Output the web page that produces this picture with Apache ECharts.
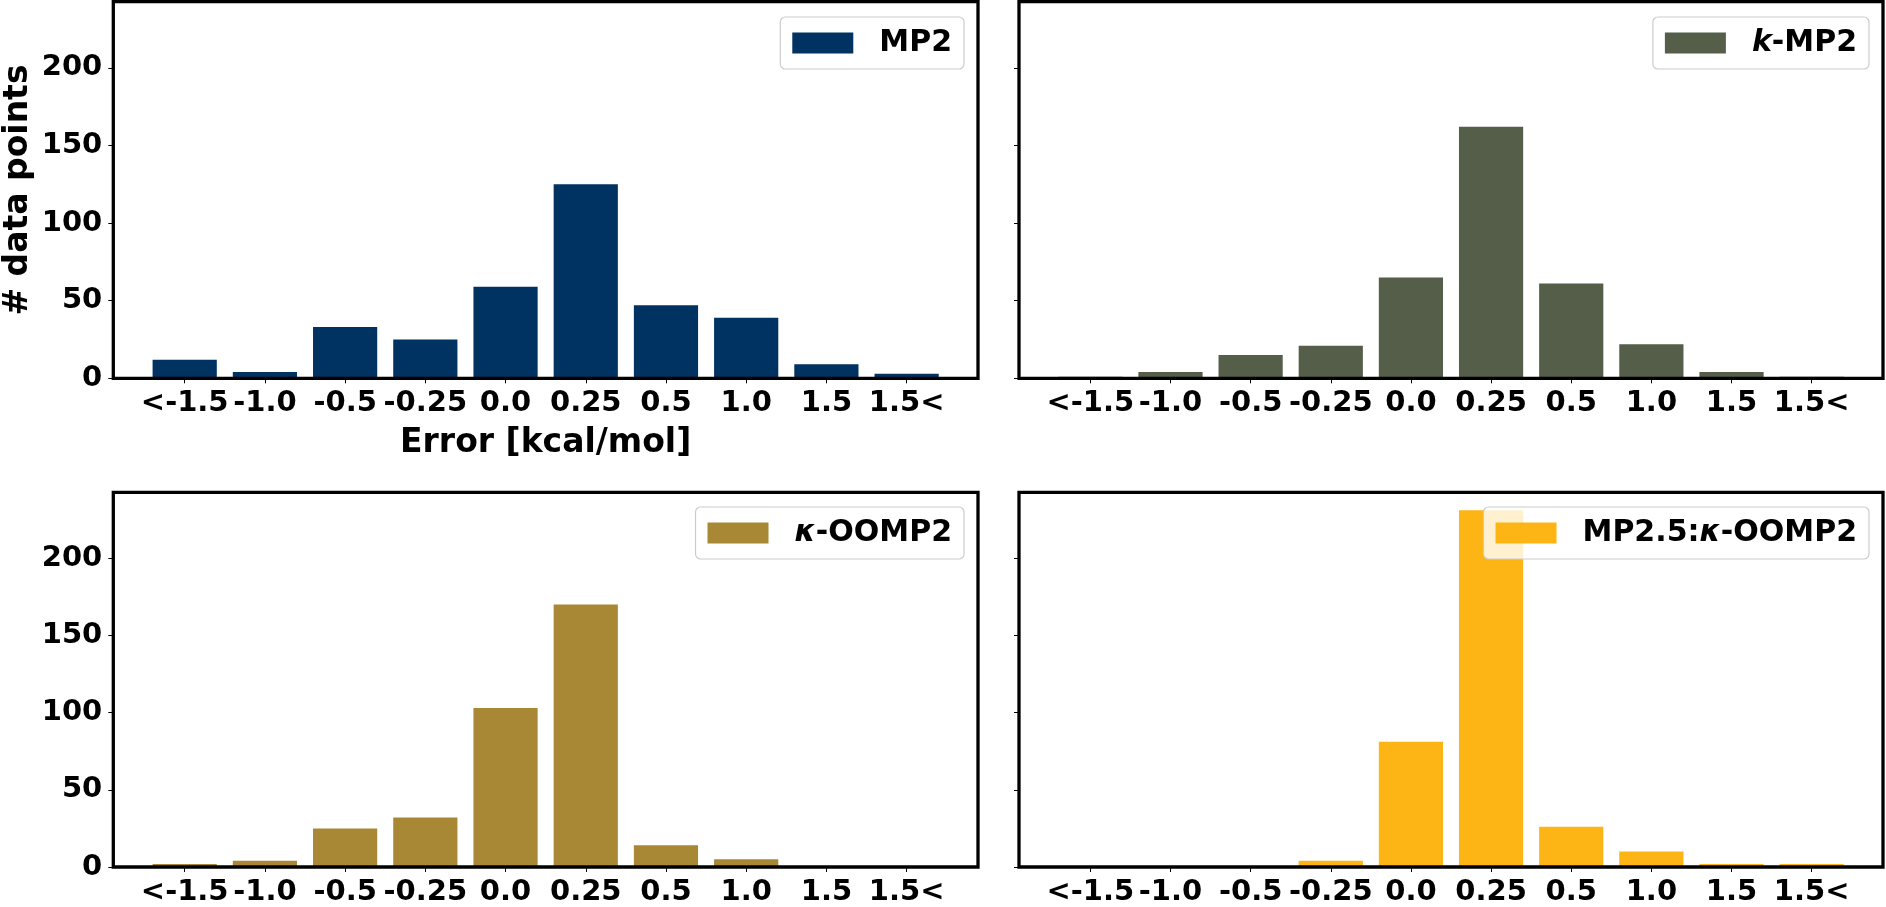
<!DOCTYPE html>
<html>
<head>
<meta charset="utf-8">
<script src="https://cdn.jsdelivr.net/npm/echarts@6/dist/echarts.min.js"></script>
<style>
html,body{margin:0;padding:0;background:#fff;}
#chart{width:1886px;height:907px;}
</style>
</head>
<body>
<div id="chart"></div>
<script>
// ---- data ----
const categories = ['<-1.5', '-1.0', '-0.5', '-0.25', '0.0', '0.25', '0.5', '1.0', '1.5', '1.5<'];
const mp2Counts    = [12, 4, 33, 25, 59, 125, 47, 39, 9, 3];
const kmp2Counts   = [1, 4, 15, 21, 65, 162, 61, 22, 4, 1];
const koomp2Counts = [2, 4, 25, 32, 103, 170, 14, 5, 0, 0];
const mp25Counts   = [0, 0, 0, 4, 81, 231, 26, 10, 2, 2];
const yTickValues  = [0, 50, 100, 150, 200];
const seriesNames  = ['MP2', 'k-MP2', 'κ-OOMP2', 'MP2.5:κ-OOMP2'];
const legendLabels = ['MP2', '{i|k}-MP2', '{i|κ}-OOMP2', 'MP2.5:{i|κ}-OOMP2'];
const seriesColors = ['#003262', '#555e49', '#a88834', '#fdb515'];
const allCounts = [mp2Counts, kmp2Counts, koomp2Counts, mp25Counts];

// ---- layout ----
const FONT = 'DejaVu Sans';
const panels = [
  {left: 113.3, top: 1.7,   width: 864.7, height: 376.6, ylabels: true,  xname: true,  yname: true,  legendRight: 922, legendTop: 17},
  {left: 1019,  top: 1.7,   width: 864,   height: 376.6, ylabels: false, xname: false, yname: false, legendRight: 17,  legendTop: 17},
  {left: 113.3, top: 492.3, width: 864.7, height: 377.4, ylabels: true,  xname: false, yname: false, legendRight: 922, legendTop: 507},
  {left: 1019,  top: 492.3, width: 864,   height: 377.4, ylabels: false, xname: false, yname: false, legendRight: 17,  legendTop: 507}
];
const yMax = 242.55;
const xMin = -0.89, xMax = 9.89;
const catIdx = categories.map((_, i) => i);

const chart = echarts.init(document.getElementById('chart'), null, {renderer: 'canvas'});

const grid = [], xAxis = [], yAxis = [], series = [], legend = [];
panels.forEach((p, k) => {
  grid.push({left: p.left, top: p.top, width: p.width, height: p.height,
    show: true, borderColor: '#000', borderWidth: 3.3, backgroundColor: 'transparent', z: 3, containLabel: false});
  xAxis.push({
    gridIndex: k, type: 'value', min: xMin, max: xMax, position: 'bottom',
    splitLine: {show: false},
    axisLine: {show: false, onZero: false},
    axisTick: {show: true, inside: false, length: 5, lineStyle: {color: '#000', width: 1}, customValues: catIdx},
    axisLabel: {show: true, margin: 11, color: '#000', fontFamily: FONT, fontWeight: 'bold', fontSize: 29,
      customValues: catIdx, formatter: v => categories[Math.round(v)]},
    name: p.xname ? 'Error [kcal/mol]' : '',
    nameLocation: 'middle', nameGap: 49,
    nameTextStyle: {color: '#000', fontFamily: FONT, fontWeight: 'bold', fontSize: 33}
  });
  yAxis.push({
    gridIndex: k, type: 'value', min: 0, max: yMax, position: 'left',
    splitLine: {show: false},
    axisLine: {show: false, onZero: false},
    axisTick: {show: true, inside: false, length: 5, lineStyle: {color: '#000', width: 1}, customValues: yTickValues},
    axisLabel: {show: p.ylabels, margin: 11, color: '#000', fontFamily: FONT, fontWeight: 'bold', fontSize: 29,
      customValues: yTickValues},
    name: p.yname ? '# data points' : '',
    nameLocation: 'middle', nameGap: 78, nameRotate: 90,
    nameTextStyle: {color: '#000', fontFamily: FONT, fontWeight: 'bold', fontSize: 33}
  });
  series.push({
    type: 'bar', name: seriesNames[k], xAxisIndex: k, yAxisIndex: k,
    data: allCounts[k].map((v, i) => [i, v]),
    barWidth: 64.2,
    itemStyle: {color: seriesColors[k]},
    emphasis: {disabled: true},
    z: 2
  });
  legend.push({
    data: [seriesNames[k]],
    right: p.legendRight, top: p.legendTop,
    orient: 'vertical',
    icon: 'rect', itemWidth: 61, itemHeight: 21,
    padding: [11, 12, 11, 12],
    backgroundColor: 'rgba(255,255,255,0.8)',
    borderColor: '#cccccc', borderWidth: 1.2, borderRadius: 5,
    selectedMode: false,
    formatter: () => legendLabels[k],
    textStyle: {color: '#000', fontFamily: FONT, fontWeight: 'bold', fontSize: 30, padding: [0, 0, 0, 21],
      rich: {i: {fontFamily: FONT, fontWeight: 'bold', fontStyle: 'italic', fontSize: 30, color: '#000'}}},
    z: 5
  });
});

chart.setOption({
  animation: false,
  backgroundColor: '#fff',
  grid, xAxis, yAxis, series, legend
});
</script>
</body>
</html>
